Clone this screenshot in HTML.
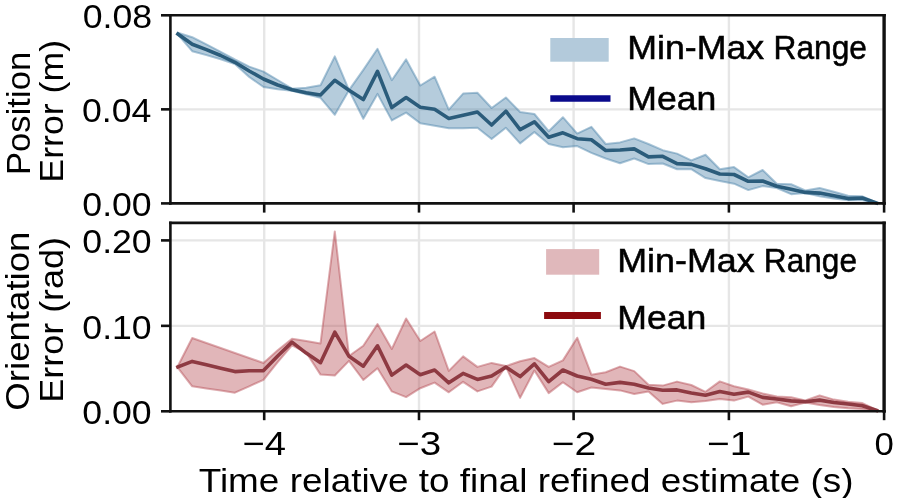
<!DOCTYPE html>
<html><head><meta charset="utf-8"><style>
html,body{margin:0;padding:0;background:#fff;overflow:hidden}
svg{display:block;will-change:transform}
text{font-family:"Liberation Sans",sans-serif}
</style></head><body>
<svg width="898" height="498" viewBox="0 0 898 498">
<rect width="898" height="498" fill="#fff"/>
<g stroke="#e6e6e6" stroke-width="2.4" fill="none"><line x1="264.2" y1="15.3" x2="264.2" y2="203.4"/><line x1="264.2" y1="222.9" x2="264.2" y2="411.3"/><line x1="419.0" y1="15.3" x2="419.0" y2="203.4"/><line x1="419.0" y1="222.9" x2="419.0" y2="411.3"/><line x1="573.6" y1="15.3" x2="573.6" y2="203.4"/><line x1="573.6" y1="222.9" x2="573.6" y2="411.3"/><line x1="728.9" y1="15.3" x2="728.9" y2="203.4"/><line x1="728.9" y1="222.9" x2="728.9" y2="411.3"/><line x1="170.4" y1="109.35" x2="884.1" y2="109.35"/><line x1="170.4" y1="240.4" x2="884.1" y2="240.4"/><line x1="170.4" y1="325.85" x2="884.1" y2="325.85"/></g>
<polygon points="177.9,32.8 192.2,37.2 206.4,44.3 220.7,51.8 234.9,59.5 249.2,66.6 263.5,71.6 277.7,80.0 292.0,88.7 306.2,87.8 320.5,85.3 334.8,56.4 349.0,90.2 363.3,69.9 377.5,48.8 391.8,80.2 406.1,59.4 420.3,85.5 434.6,76.7 448.8,109.7 463.1,93.6 477.4,92.8 491.6,108.0 505.9,97.5 520.1,112.0 534.4,114.0 548.7,131.2 562.9,117.2 577.2,133.6 591.4,126.8 605.7,144.0 620.0,142.4 634.2,138.4 648.5,144.0 662.7,150.2 677.0,153.6 691.3,160.4 705.5,154.7 719.8,169.2 734.0,167.1 748.3,177.3 762.6,170.0 776.8,183.7 791.1,184.2 805.3,190.5 819.6,187.9 833.9,191.8 848.1,195.7 862.4,196.3 876.6,202.5 876.6,203.2 862.4,200.3 848.1,200.3 833.9,198.6 819.6,196.3 805.3,193.1 791.1,194.2 776.8,188.0 762.6,186.1 748.3,190.1 734.0,183.7 719.8,181.0 705.5,178.1 691.3,169.2 677.0,169.2 662.7,163.5 648.5,164.1 634.2,158.5 620.0,163.3 605.7,158.5 591.4,152.9 577.2,146.1 562.9,147.3 548.7,144.0 534.4,132.0 520.1,143.4 505.9,127.8 491.6,139.0 477.4,127.8 463.1,128.2 448.8,128.2 434.6,125.7 420.3,123.3 406.1,112.6 391.8,120.4 377.5,93.9 363.3,118.8 349.0,90.2 334.8,114.8 320.5,97.9 306.2,94.2 292.0,90.8 277.7,89.2 263.5,87.0 249.2,77.0 234.9,64.0 220.7,59.2 206.4,55.1 192.2,51.2 177.9,34.6" fill="#4680a8" fill-opacity="0.4" stroke="#4680a8" stroke-opacity="0.45" stroke-width="2.0" stroke-linejoin="round"/>
<polygon points="177.9,366.0 192.2,338.0 206.4,343.0 220.7,348.0 234.9,353.0 249.2,358.0 263.5,363.0 277.7,350.2 292.0,338.8 306.2,341.0 320.5,343.4 334.8,231.4 349.0,356.0 363.3,345.8 377.5,324.1 391.8,349.0 406.1,318.5 420.3,341.0 434.6,331.5 448.8,370.9 463.1,356.4 477.4,366.9 491.6,362.9 505.9,366.1 520.1,361.3 534.4,358.1 548.7,366.9 562.9,360.4 577.2,337.7 591.4,374.7 605.7,372.3 620.0,366.6 634.2,371.1 648.5,384.8 662.7,385.6 677.0,381.6 691.3,385.0 705.5,391.8 719.8,381.4 734.0,386.2 748.3,389.4 762.6,393.4 776.8,396.6 791.1,397.3 805.3,400.5 819.6,395.4 833.9,399.6 848.1,401.8 862.4,403.1 876.6,410.0 876.6,411.0 862.4,408.9 848.1,408.3 833.9,407.0 819.6,405.1 805.3,402.5 791.1,406.3 776.8,402.3 762.6,404.7 748.3,396.6 734.0,400.6 719.8,399.0 705.5,401.1 691.3,402.3 677.0,400.6 662.7,403.9 648.5,391.5 634.2,394.0 620.0,390.4 605.7,389.1 591.4,387.5 577.2,392.3 562.9,382.3 548.7,393.1 534.4,370.5 520.1,397.9 505.9,366.5 491.6,386.6 477.4,391.4 463.1,381.8 448.8,392.3 434.6,382.6 420.3,388.2 406.1,397.1 391.8,391.4 377.5,368.2 363.3,380.0 349.0,360.9 334.8,375.5 320.5,374.6 306.2,352.5 292.0,345.3 277.7,362.2 263.5,379.8 249.2,386.3 234.9,392.7 220.7,390.6 206.4,388.4 192.2,386.3 177.9,367.8" fill="#b44850" fill-opacity="0.4" stroke="#b44850" stroke-opacity="0.45" stroke-width="2.0" stroke-linejoin="round"/>
<polyline points="177.9,34.0 192.2,44.2 206.4,49.6 220.7,55.5 234.9,62.3 249.2,71.0 263.5,79.0 277.7,85.0 292.0,89.7 306.2,92.7 320.5,95.0 334.8,80.3 349.0,90.2 363.3,99.6 377.5,71.4 391.8,107.6 406.1,97.6 420.3,107.3 434.6,109.3 448.8,118.5 463.1,115.3 477.4,112.0 491.6,125.0 505.9,111.2 520.1,129.6 534.4,121.8 548.7,137.2 562.9,132.8 577.2,138.7 591.4,139.7 605.7,150.5 620.0,150.0 634.2,148.9 648.5,156.9 662.7,156.3 677.0,163.6 691.3,164.4 705.5,168.7 719.8,174.0 734.0,174.5 748.3,181.3 762.6,181.0 776.8,186.3 791.1,189.3 805.3,192.4 819.6,193.1 833.9,195.7 848.1,198.6 862.4,198.0 876.6,203.0" fill="none" stroke="#2b5c7b" stroke-width="3.6" stroke-linejoin="round" stroke-linecap="square"/>
<polyline points="177.9,367.0 192.2,361.4 206.4,364.8 220.7,368.2 234.9,371.6 249.2,370.8 263.5,370.6 277.7,356.0 292.0,342.1 306.2,353.1 320.5,362.7 334.8,332.2 349.0,356.3 363.3,366.2 377.5,345.8 391.8,375.1 406.1,365.0 420.3,374.7 434.6,370.0 448.8,382.8 463.1,373.4 477.4,379.4 491.6,376.0 505.9,367.1 520.1,376.6 534.4,363.8 548.7,381.6 562.9,370.0 577.2,376.0 591.4,379.2 605.7,384.3 620.0,382.4 634.2,384.3 648.5,388.0 662.7,390.3 677.0,389.9 691.3,392.9 705.5,395.3 719.8,391.5 734.0,394.2 748.3,392.1 762.6,397.4 776.8,399.0 791.1,400.9 805.3,401.8 819.6,400.1 833.9,402.5 848.1,404.0 862.4,405.7 876.6,410.5" fill="none" stroke="#8e3a42" stroke-width="3.6" stroke-linejoin="round" stroke-linecap="square"/>
<rect x="550.3" y="38.0" width="58.4" height="23.7" fill="#b3cadb"/>
<line x1="550.3" y1="98.5" x2="610.5" y2="98.5" stroke="#0a0a8c" stroke-width="6.7"/>
<rect x="546.1" y="249.1" width="53.1" height="25.6" fill="#e0b8bb"/>
<line x1="544.1" y1="315.4" x2="600.9" y2="315.4" stroke="#8c0a0e" stroke-width="7"/>
<g fill="none" stroke="#111" stroke-width="2.6"><line x1="169.1" y1="15.3" x2="885.8000000000001" y2="15.3"/><line x1="169.1" y1="203.4" x2="885.8000000000001" y2="203.4"/><line x1="170.4" y1="14.0" x2="170.4" y2="204.70000000000002"/><line x1="884.1" y1="14.0" x2="884.1" y2="204.70000000000002" stroke-width="3.4"/><line x1="169.1" y1="222.9" x2="885.8000000000001" y2="222.9"/><line x1="169.1" y1="411.3" x2="885.8000000000001" y2="411.3"/><line x1="170.4" y1="221.6" x2="170.4" y2="412.6"/><line x1="884.1" y1="221.6" x2="884.1" y2="412.6" stroke-width="3.4"/></g><g stroke="#111" stroke-width="2.6"><line x1="161.0" y1="15.3" x2="170.4" y2="15.3"/><line x1="161.0" y1="109.35" x2="170.4" y2="109.35"/><line x1="161.0" y1="203.4" x2="170.4" y2="203.4"/><line x1="161.0" y1="240.4" x2="170.4" y2="240.4"/><line x1="161.0" y1="325.85" x2="170.4" y2="325.85"/><line x1="161.0" y1="411.3" x2="170.4" y2="411.3"/><line x1="264.2" y1="203.4" x2="264.2" y2="212.6"/><line x1="264.2" y1="411.3" x2="264.2" y2="420.2"/><line x1="419.0" y1="203.4" x2="419.0" y2="212.6"/><line x1="419.0" y1="411.3" x2="419.0" y2="420.2"/><line x1="573.6" y1="203.4" x2="573.6" y2="212.6"/><line x1="573.6" y1="411.3" x2="573.6" y2="420.2"/><line x1="728.9" y1="203.4" x2="728.9" y2="212.6"/><line x1="728.9" y1="411.3" x2="728.9" y2="420.2"/><line x1="884.1" y1="203.4" x2="884.1" y2="212.6"/><line x1="884.1" y1="411.3" x2="884.1" y2="420.2"/></g>
<g font-family="Liberation Sans, sans-serif" fill="#000"><text transform="translate(82.67,28.10) scale(0.3565,0.3300)" font-size="100">0.08</text><text transform="translate(81.96,122.15) scale(0.3565,0.3300)" font-size="100">0.04</text><text transform="translate(82.32,216.20) scale(0.3565,0.3300)" font-size="100">0.00</text><text transform="translate(82.32,253.20) scale(0.3565,0.3300)" font-size="100">0.20</text><text transform="translate(82.32,338.65) scale(0.3565,0.3300)" font-size="100">0.10</text><text transform="translate(82.32,424.10) scale(0.3565,0.3300)" font-size="100">0.00</text><text transform="translate(242.44,454.9) scale(0.3821,0.3350)" font-size="100">−4</text><text transform="translate(397.22,454.9) scale(0.3857,0.3350)" font-size="100">−3</text><text transform="translate(551.80,454.9) scale(0.3894,0.3350)" font-size="100">−2</text><text transform="translate(707.10,454.9) scale(0.3894,0.3350)" font-size="100">−1</text><text transform="translate(874.41,454.5) scale(0.3479,0.322)" font-size="100">0</text><text transform="translate(198.76,491.70) scale(0.3691,0.3377)" font-size="100">Time relative to final refined estimate (s)</text><text transform="translate(29.70,174.97) rotate(-90) scale(0.3463,0.3275)" font-size="100">Position</text><text transform="translate(62.70,182.66) rotate(-90) scale(0.3570,0.3261)" font-size="100">Error (m)</text><text transform="translate(29.40,410.63) rotate(-90) scale(0.3661,0.3304)" font-size="100">Orientation</text><text transform="translate(62.70,402.68) rotate(-90) scale(0.3595,0.3290)" font-size="100">Error (rad)</text></g>
<g font-family="Liberation Sans, sans-serif" fill="#000" stroke="#000" stroke-width="1.6"><text transform="translate(627.24,59.30) scale(0.3572,0.3333)" font-size="100">Min-Max</text><text transform="translate(773.56,59.30) scale(0.3170,0.3333)" font-size="100">Range</text><text transform="translate(627.25,110.40) scale(0.3559,0.3246)" font-size="100">Mean</text><text transform="translate(617.23,272.10) scale(0.3583,0.3333)" font-size="100">Min-Max</text><text transform="translate(763.87,272.10) scale(0.3160,0.3333)" font-size="100">Range</text><text transform="translate(617.25,328.60) scale(0.3559,0.3319)" font-size="100">Mean</text></g>
</svg>
</body></html>
